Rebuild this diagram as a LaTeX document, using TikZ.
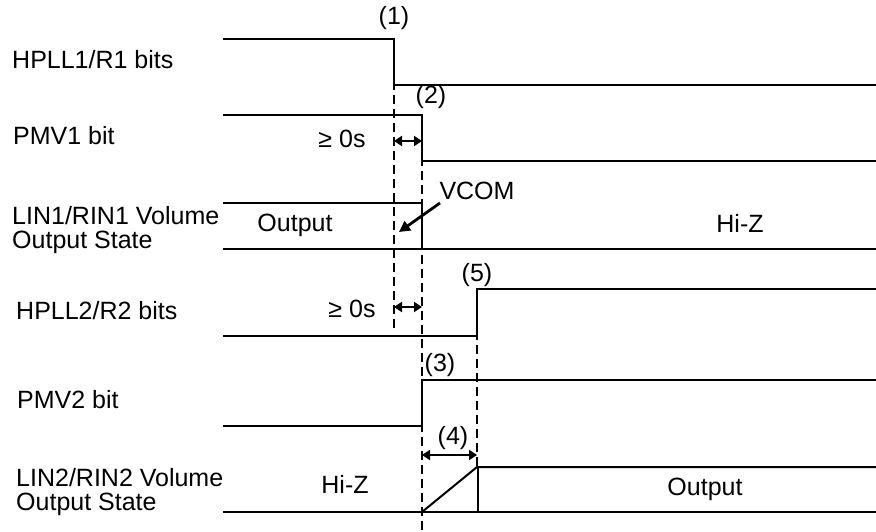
\documentclass[tikz,border=0pt]{standalone}
\usepackage{fontspec}
\setmainfont{Liberation Sans}
\usetikzlibrary{arrows.meta}
\begin{document}
\begin{tikzpicture}[x=1pt,y=-1pt,
  sig/.style={line width=2pt},
  vdash/.style={line width=2.6pt, dash pattern=on 9pt off 5pt},
  dimarrow/.style={line width=2.6pt, {Triangle[length=8pt,width=10pt]}-{Triangle[length=8pt,width=10pt]}},
  lbl/.style={font=\fontsize{25}{25}\selectfont, inner sep=0pt, anchor=base},
  side/.style={lbl, anchor=base west, align=left}]
\useasboundingbox (0,0) rectangle (876,532);
% side labels
\node[side] (l1) at (12,69) {HPLL1/R1 bits};
\node[side] (l2) at (13,145) {PMV1 bit};
\node[side] (l3a) at (12,224) {LIN1/RIN1 Volume};
\node[side] (l3b) at (12,248) {Output State};
\node[side] (l4) at (16,319) {HPLL2/R2 bits};
\node[side] (l5) at (17,408) {PMV2 bit};
\node[side] (l6a) at (16,486) {LIN2/RIN2 Volume};
\node[side] (l6b) at (16,510) {Output State};
% dashed lines
\draw[vdash] (394,39) -- (394,331);
\draw[vdash] (422,115) -- (422,532);
\draw[vdash] (477,289) -- (477,467);
% row 1
\draw[sig] (223,39) -- (394,39) -- (394,85) -- (876,85);
% row 2
\draw[sig] (223,115) -- (422,115) -- (422,161) -- (876,161);
% row 3
\draw[sig] (223,203) -- (422,203) -- (422,249);
\draw[sig] (223,249) -- (876,249);
% row 4
\draw[sig] (223,336) -- (477,336) -- (477,289) -- (876,289);
% row 5
\draw[sig] (223,426) -- (422,426) -- (422,380) -- (876,380);
% row 6
\draw[sig] (223,512) -- (876,512);
\draw[sig] (422,512) -- (477,467) -- (876,467);
\draw[sig] (478,467) -- (478,512);
% dimension arrows
\draw[dimarrow] (394,141) -- (422,141);
\draw[dimarrow] (394,307) -- (422,307);
\draw[dimarrow] (422,455) -- (477,455);
% VCOM arrow
\coordinate (vstart) at (440,203);
\coordinate (vend) at (399,232);
\draw[line width=2.8pt, -{Triangle[length=11pt,width=11pt]}] (vstart) -- (vend);
% labels
\node[lbl] (n1) at (394,25) {(1)};
\node[lbl] (n2) at (431,104) {(2)};
\node[lbl] (n3) at (440,371) {(3)};
\node[lbl] (n4) at (453,444) {(4)};
\node[lbl] (n5) at (477,281) {(5)};
\node[lbl] (ge1) at (342,148) {≥ 0s};
\node[lbl] (ge2) at (352,317) {≥ 0s};
\node[lbl] (vcom) at (477,200) {VCOM};
\node[lbl] (o1) at (295,231) {Output};
\node[lbl] (hz1) at (740,232) {Hi-Z};
\node[lbl] (hz2) at (345,493) {Hi-Z};
\node[lbl] (o2) at (705,495) {Output};
\end{tikzpicture}
\end{document}
